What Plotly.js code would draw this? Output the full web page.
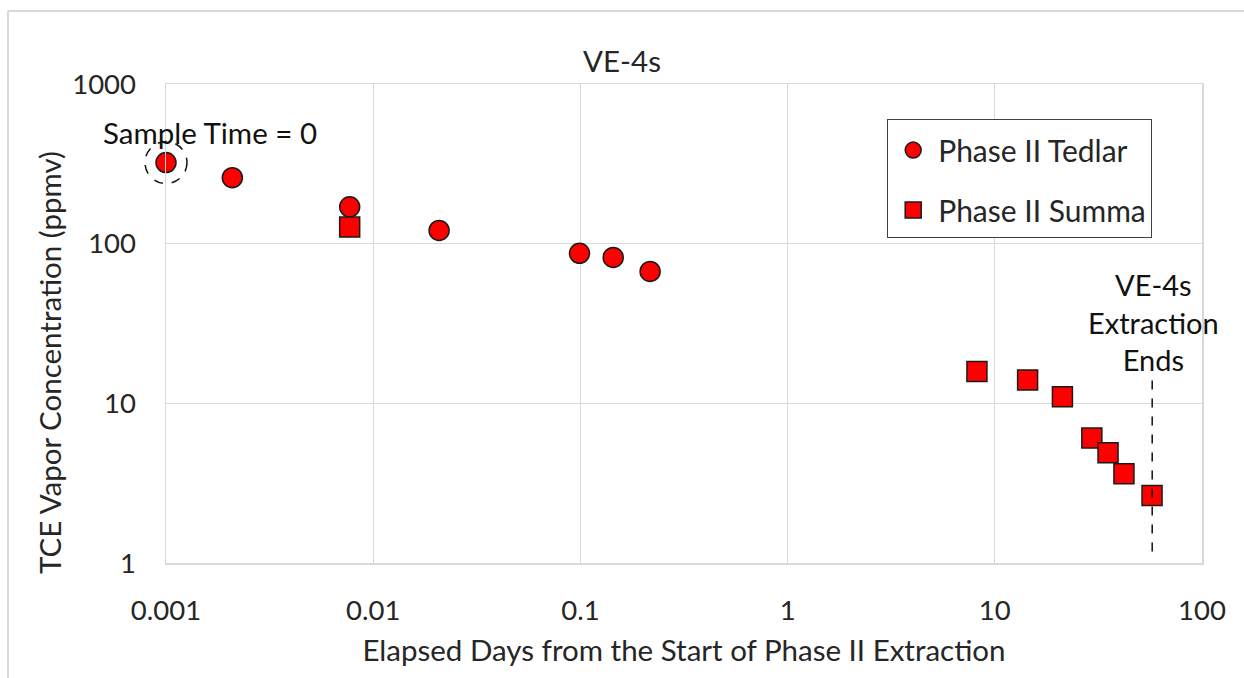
<!DOCTYPE html>
<html>
<head>
<meta charset="utf-8">
<script src="https://cdn.plot.ly/plotly-3.0.1.min.js"></script>
<style>
  html, body { margin: 0; padding: 0; background: #fff; }
  #chart { width: 1244px; height: 678px; }
</style>
</head>
<body>
<div id="chart"></div>
<script>
// ---- data ----
const tedlarDays = [0.001, 0.00209, 0.0077, 0.0208, 0.099, 0.144, 0.217];
const tedlarPpmv = [322, 259, 170, 121, 87, 82, 67];

const summaDays = [0.0077, 8.2, 14.4, 21.2, 29.4, 35.2, 42.0, 57.4];
const summaPpmv = [127, 15.8, 14.0, 11.0, 6.06, 4.90, 3.62, 2.65];

const xTickVals = [0.001, 0.01, 0.1, 1, 10, 100];
const xTickText = ['0.001', '0.01', '0.1', '1', '10', '100'];
const yTickVals = [1, 10, 100, 1000];
const yTickText = ['1', '10', '100', '1000'];

const extractionEndDay = 57.5;
const dashedLineRange = [1.18, 14.8];
const sampleTimeZero = { day: 0.001, ppmv: 322 };

// ---- style ----
const FONT = 'Lato, "Open Sans", sans-serif';
const RED = '#ff0000';
const EDGE = '#1a1a1a';
const GRID = '#d9d9d9';
const TXT = '#262626';
const xRange = [-3, 2], yRange = [0, 3];

const traces = [
  {
    x: tedlarDays, y: tedlarPpmv, name: 'Phase II Tedlar',
    type: 'scatter', mode: 'markers', legendgroup: 'a', cliponaxis: false,
    marker: { symbol: 'circle', size: 20, color: RED, line: { color: EDGE, width: 1.5 } }
  },
  {
    x: summaDays, y: summaPpmv, name: 'Phase II Summa',
    type: 'scatter', mode: 'markers', legendgroup: 'b', cliponaxis: false,
    marker: { symbol: 'square', size: 20, color: RED, line: { color: EDGE, width: 1.5 } }
  }
];

const L = 166, R = 1202, T = 84, B = 563;
const W = 1244, H = 678;
const px = v => (v - L) / (R - L);
const py = v => (B - v) / (B - T);
// data -> paper fraction on the log axes (for marks drawn outside the clip area)
const lx = d => (Math.log10(d) - xRange[0]) / (xRange[1] - xRange[0]);
const ly = d => (Math.log10(d) - yRange[0]) / (yRange[1] - yRange[0]);

const layout = {
  width: W, height: H,
  margin: { l: L, r: W - R, t: T, b: H - B, pad: 0 },
  paper_bgcolor: '#fff', plot_bgcolor: '#fff',
  font: { family: FONT, color: TXT, size: 28 },
  title: {
    text: 'VE-4s', font: { family: FONT, size: 29.5, color: TXT },
    x: 622 / W, xref: 'container', xanchor: 'center',
    y: 1 - 62 / H, yref: 'container', yanchor: 'middle'
  },
  xaxis: {
    type: 'log', range: xRange,
    tickvals: xTickVals, ticktext: xTickText,
    showgrid: true, gridcolor: GRID, gridwidth: 1,
    showline: true, linecolor: GRID, linewidth: 1.5, mirror: true,
    ticks: '', zeroline: false, ticklabelstandoff: 22,
    tickfont: { family: FONT, size: 27.5, color: TXT },
    title: { text: 'Elapsed Days from the Start of Phase II Extraction',
             font: { family: FONT, size: 29.5, color: TXT }, standoff: 16 }
  },
  yaxis: {
    type: 'log', range: yRange,
    tickvals: yTickVals, ticktext: yTickText,
    showgrid: true, gridcolor: GRID, gridwidth: 1,
    showline: true, linecolor: GRID, linewidth: 1.5, mirror: true,
    ticks: '', zeroline: false, ticklabelstandoff: 23,
    tickfont: { family: FONT, size: 27.5, color: TXT }
  },
  legend: {
    x: px(887), y: py(119), xanchor: 'left', yanchor: 'top',
    bgcolor: '#fff', bordercolor: '#404040', borderwidth: 1.2,
    font: { family: FONT, size: 30, color: TXT },
    title: { text: ' ', font: { size: 3 } },
    traceorder: 'grouped', tracegroupgap: 18,
    itemsizing: 'trace', itemwidth: 40
  },
  showlegend: true,
  annotations: [
    { text: 'TCE Vapor Concentration (ppmv)', xref: 'paper', yref: 'paper',
      x: px(49), y: py(363), xanchor: 'center', yanchor: 'middle', textangle: -90,
      showarrow: false, font: { family: FONT, size: 29.5, color: TXT } },
    { text: 'Sample Time = 0', xref: 'paper', yref: 'paper',
      x: px(210), y: py(132), xanchor: 'center', yanchor: 'middle',
      showarrow: false, font: { family: FONT, size: 29.5, color: '#111' } },
    { text: 'VE-4s<br>Extraction<br>Ends', xref: 'paper', yref: 'paper',
      x: px(1153), y: py(322), xanchor: 'center', yanchor: 'middle',
      showarrow: false, font: { family: FONT, size: 29, color: '#111' } }
  ],
  shapes: [
    // dashed circle round the first sample
    { type: 'circle', xref: 'paper', yref: 'paper',
      xsizemode: 'pixel', ysizemode: 'pixel',
      xanchor: lx(sampleTimeZero.day), yanchor: ly(sampleTimeZero.ppmv),
      x0: -21, x1: 21, y0: -21, y1: 21,
      line: { color: '#111', width: 1.5, dash: 'dash' } },
    // end of extraction line
    { type: 'line', xref: 'x', yref: 'y',
      x0: extractionEndDay, x1: extractionEndDay,
      y0: dashedLineRange[0], y1: dashedLineRange[1],
      line: { color: '#111', width: 1.5, dash: 'dash' } },
    // chart-area frame (top and left edges)
    { type: 'line', xref: 'paper', yref: 'paper',
      x0: px(8), x1: px(W), y0: py(11), y1: py(11),
      line: { color: GRID, width: 2 } },
    { type: 'line', xref: 'paper', yref: 'paper',
      x0: px(8), x1: px(8), y0: py(11), y1: py(H),
      line: { color: GRID, width: 2 } }
  ]
};

Plotly.newPlot('chart', traces, layout, { displayModeBar: false, staticPlot: true });
</script>
</body>
</html>
